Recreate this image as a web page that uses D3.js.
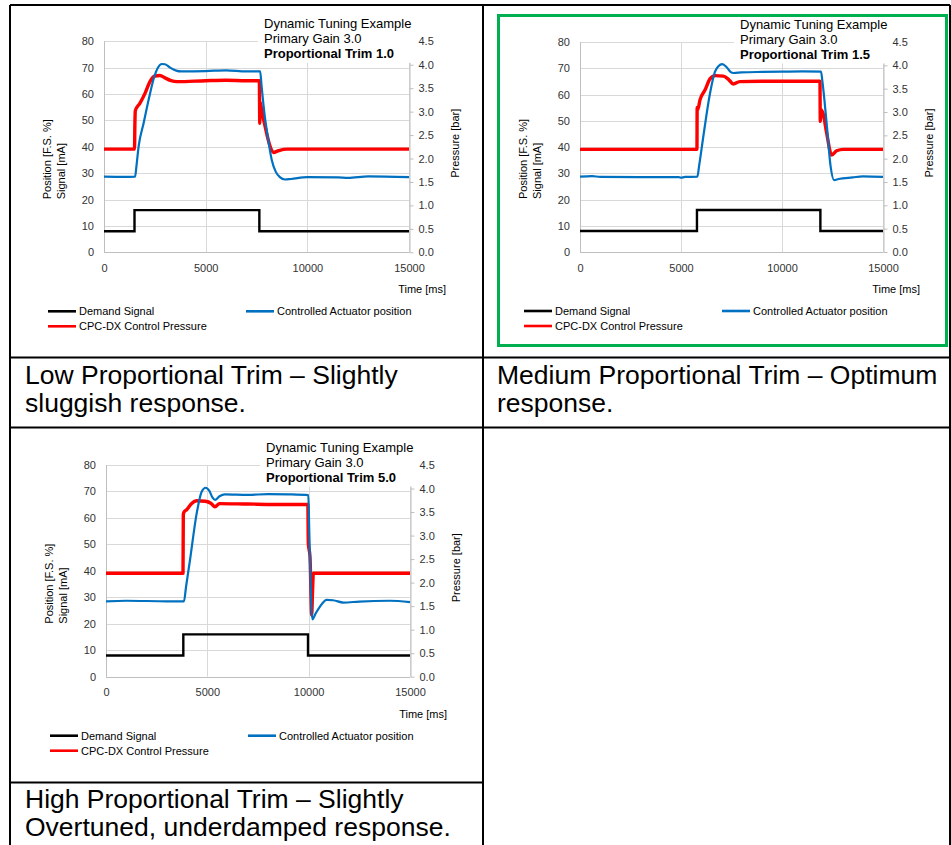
<!DOCTYPE html>
<html>
<head>
<meta charset="utf-8">
<script src="https://cdn.jsdelivr.net/npm/d3@7"></script>
<style>
  html, body { margin: 0; padding: 0; background: #fff; }
  svg { display: block; font-family: "Liberation Sans", Arial, sans-serif; }
</style>
</head>
<body>
<svg id="root" width="951" height="845"></svg>
<script>
// ---------- DATA ----------
const xTicks = [0, 5000, 10000, 15000];
const leftTicks = [0, 10, 20, 30, 40, 50, 60, 70, 80];
const rightTicks = [0, 0.5, 1, 1.5, 2, 2.5, 3, 3.5, 4, 4.5];
const seriesNames = ["Demand Signal", "Controlled Actuator position", "CPC-DX Control Pressure"];
const titleLines = ["Dynamic Tuning Example", "Primary Gain 3.0"];
const trimLabels = ["Proportional Trim 1.0", "Proportional Trim 1.5", "Proportional Trim 5.0"];
const captions = [
  ["Low Proportional Trim \u2013 Slightly", "sluggish response."],
  ["Medium Proportional Trim \u2013 Optimum", "response."],
  ["High Proportional Trim \u2013 Slightly", "Overtuned, underdamped response."]
];

// [time ms, signal mA]
const demand1 = [[0,8],[1500,8],[1500,16],[7640,16],[7640,8],[15000,8]];
const demand2 = [[0,8],[5790,8],[5790,16],[11900,16],[11900,8],[15000,8]];
const demand3 = [[0,8],[3815,8],[3815,16],[9967,16],[9967,8],[15000,8]];

// [time ms, position %]
const position1 = [[0,28.7],[1000,28.6],[1530,28.7],[1600,33],[1700,40],[1950,49],[2200,58],[2450,66],[2650,70],[2850,71.4],[3000,71.3],[3250,70.0],[3550,68.9],[3800,68.6],[5000,68.7],[6000,69.0],[7000,68.6],[7680,68.6],[7750,63],[7900,52],[8050,44],[8250,35],[8450,30.5],[8650,28.5],[8900,27.6],[9200,27.8],[10000,28.5],[11500,28.4],[12000,28.2],[13000,28.8],[15000,28.5]];
const position2 = [[0,28.7],[600,28.9],[1000,28.6],[4900,28.5],[5000,28.3],[5200,28.6],[5810,28.7],[5900,33],[6105,44],[6435,60.4],[6683,68.7],[6850,70.8],[7046,71.6],[7250,70.5],[7450,68.6],[7600,68.2],[8000,68.4],[9000,68.6],[10000,68.7],[11000,68.8],[11930,68.7],[12000,65],[12210,49],[12408,32.5],[12573,27.4],[12800,27.8],[13500,28.4],[14000,28.8],[15000,28.6]];
const position3 = [[0,28.5],[1000,28.7],[3000,28.5],[3848,28.5],[3950,34],[4145,44.1],[4474,61.7],[4720,69.9],[4918,71.4],[5100,70.2],[5250,67.8],[5378,66.8],[5600,68.2],[5871,68.9],[7000,68.7],[8000,69.0],[9000,68.9],[9983,68.6],[10030,55],[10066,44],[10181,21.7],[10350,24],[10559,26.5],[10888,29.0],[11200,28.9],[11710,28.0],[12500,28.4],[14000,28.7],[15000,28.2]];

// [time ms, pressure bar]
const pressure1 = [[0,2.2],[1500,2.2],[1520,2.75],[1540,3.02],[1770,3.18],[2016,3.39],[2262,3.64],[2508,3.76],[2750,3.77],[3000,3.72],[3300,3.66],[3600,3.64],[5000,3.66],[6000,3.67],[7000,3.66],[7640,3.66],[7660,2.75],[7680,3.2],[7750,3.05],[7920,2.69],[8160,2.27],[8330,2.13],[8600,2.17],[9000,2.2],[15000,2.2]];
const pressure2 = [[0,2.2],[5790,2.2],[5800,3.1],[5830,3.05],[5940,3.26],[6187,3.47],[6435,3.71],[6683,3.78],[7096,3.77],[7350,3.7],[7590,3.6],[7900,3.65],[9000,3.66],[11880,3.66],[11895,2.8],[11920,3.05],[12045,2.95],[12210,2.55],[12457,2.08],[12705,2.17],[13035,2.2],[15000,2.2]];
const pressure3 = [[0,2.2],[3800,2.2],[3815,3.45],[3850,3.5],[3980,3.55],[4228,3.68],[4475,3.74],[4900,3.73],[5200,3.68],[5378,3.61],[5600,3.68],[7000,3.67],[9000,3.66],[9960,3.66],[9983,2.84],[10066,2.55],[10148,1.31],[10190,1.8],[10230,2.2],[15000,2.2]];

// ---------- LAYOUT ----------
const svg = d3.select("#root");
const colors = { demand: "#000000", position: "#0070c0", pressure: "#ff0000" };

// table borders
const border = svg.append("g").attr("stroke", "#000").attr("stroke-width", 2).attr("fill", "none");
[[10, 5, 950, 5], [10, 357.5, 950, 357.5], [10, 427.5, 950, 427.5], [10, 782.5, 483, 782.5],
 [10, 5, 10, 845], [483, 5, 483, 845], [950, 5, 950, 845]].forEach(l =>
  border.append("line").attr("x1", l[0]).attr("y1", l[1]).attr("x2", l[2]).attr("y2", l[3]));

// captions
const capPos = [[25, 384], [497, 384], [25, 808]];
captions.forEach((c, i) => {
  const t = svg.append("text").attr("x", capPos[i][0]).attr("y", capPos[i][1])
    .attr("font-size", "26.5px").attr("fill", "#000");
  c.forEach((line, j) => t.append("tspan").attr("x", capPos[i][0]).attr("dy", j === 0 ? 0 : 28).text(line));
});

const charts = [
  { x0: 104, x1: 409, yTop: 41.3, yBot: 252.3, demand: demand1, position: position1, pressure: pressure1, trim: trimLabels[0] },
  { x0: 580, x1: 883, yTop: 42, yBot: 252, demand: demand2, position: position2, pressure: pressure2, trim: trimLabels[1] },
  { x0: 106, x1: 410, yTop: 465, yBot: 676.7, demand: demand3, position: position3, pressure: pressure3, trim: trimLabels[2] }
];

charts.forEach(c => drawChart(c));

// green highlight around the optimum chart (drawn on top)
svg.append("rect").attr("x", 498.5).attr("y", 15.5).attr("width", 448).attr("height", 330)
  .attr("fill", "none").attr("stroke", "#00b050").attr("stroke-width", 3);

function drawChart(c) {
  const g = svg.append("g");
  const x = d3.scaleLinear().domain([0, 15000]).range([c.x0, c.x1]);
  const yL = d3.scaleLinear().domain([0, 80]).range([c.yBot, c.yTop]);
  const yR = d3.scaleLinear().domain([0, 4.5]).range([c.yBot, c.yTop]);

  // gridlines
  const grid = g.append("g").attr("stroke", "#d9d9d9").attr("stroke-width", 1);
  leftTicks.forEach(v => grid.append("line")
    .attr("x1", c.x0).attr("x2", c.x1).attr("y1", Math.round(yL(v)) + 0.5).attr("y2", Math.round(yL(v)) + 0.5));
  xTicks.forEach(v => grid.append("line")
    .attr("x1", Math.round(x(v)) + 0.5).attr("x2", Math.round(x(v)) + 0.5).attr("y1", c.yTop).attr("y2", c.yBot));

  // axes (gray lines)
  const ax = g.append("g").attr("stroke", "#bfbfbf").attr("stroke-width", 1);
  ax.append("line").attr("x1", Math.round(c.x0) + 0.5).attr("x2", Math.round(c.x0) + 0.5).attr("y1", c.yTop).attr("y2", c.yBot);
  ax.append("line").attr("x1", c.x0).attr("x2", c.x1).attr("y1", Math.round(c.yBot) + 0.5).attr("y2", Math.round(c.yBot) + 0.5);

  // left axis labels
  const leftAxis = d3.axisLeft(yL).tickValues(leftTicks).tickSize(0).tickPadding(10).tickFormat(d3.format("d"));
  const la = g.append("g").attr("transform", `translate(${c.x0},0)`).call(leftAxis);
  la.select(".domain").remove();
  la.selectAll("text").attr("font-size", "11px").attr("font-family", "Liberation Sans, Arial, sans-serif").attr("fill", "#333");

  // bottom axis labels
  const bottomAxis = d3.axisBottom(x).tickValues(xTicks).tickSize(0).tickPadding(12).tickFormat(d3.format("d"));
  const ba = g.append("g").attr("transform", `translate(0,${c.yBot})`).call(bottomAxis);
  ba.select(".domain").remove();
  ba.selectAll("text").attr("font-size", "11px").attr("font-family", "Liberation Sans, Arial, sans-serif").attr("fill", "#333");

  // right axis
  const rightAxis = d3.axisRight(yR).tickValues(rightTicks).tickSizeInner(4).tickSizeOuter(0).tickPadding(5).tickFormat(d3.format(".1f"));
  const ra = g.append("g").attr("transform", `translate(${Math.round(c.x1) + 0.5},0)`).call(rightAxis);
  ra.select(".domain").attr("stroke", "#bfbfbf");
  ra.selectAll(".tick line").attr("stroke", "#bfbfbf");
  ra.selectAll("text").attr("font-size", "11px").attr("font-family", "Liberation Sans, Arial, sans-serif").attr("fill", "#333");

  // series
  const lineL = d3.line().x(d => x(d[0])).y(d => yL(d[1]));
  const lineLS = d3.line().x(d => x(d[0])).y(d => yL(d[1])).curve(d3.curveMonotoneX);
  const lineR = d3.line().x(d => x(d[0])).y(d => yR(d[1])).curve(d3.curveMonotoneX);

  g.append("path").datum(c.demand).attr("d", lineL).attr("fill", "none")
    .attr("stroke", colors.demand).attr("stroke-width", 2.4);
  g.append("path").datum(c.pressure).attr("d", lineR).attr("fill", "none")
    .attr("stroke", colors.pressure).attr("stroke-width", 3.4).attr("stroke-linejoin", "round");
  g.append("path").datum(c.position).attr("d", lineLS).attr("fill", "none")
    .attr("stroke", colors.position).attr("stroke-width", 2.2).attr("stroke-linejoin", "round");

  // title box
  const tx = c.x0 + 160;
  g.append("rect").attr("x", c.x0 + 154).attr("y", c.yTop - 24).attr("width", c.x1 + 5 - (c.x0 + 154)).attr("height", 45.5)
    .attr("fill", "#fff");
  g.append("text").attr("x", tx).attr("y", c.yTop - 13).attr("font-size", "13px").attr("fill", "#000").text(titleLines[0]);
  g.append("text").attr("x", tx).attr("y", c.yTop + 2).attr("font-size", "13px").attr("fill", "#000").text(titleLines[1]);
  g.append("text").attr("x", tx).attr("y", c.yTop + 17).attr("font-size", "13px").attr("font-weight", "bold").attr("fill", "#000").text(c.trim);

  // axis titles
  const lx1 = c.x0 - 57, lx2 = c.x0 - 43, ly = c.yBot - 53;
  g.append("text").attr("transform", `translate(${lx1},${ly}) rotate(-90)`).attr("dy", "0.35em")
    .attr("font-size", "11px").attr("fill", "#000").text("Position [F.S. %]");
  g.append("text").attr("transform", `translate(${lx2},${ly}) rotate(-90)`).attr("dy", "0.35em")
    .attr("font-size", "11px").attr("fill", "#000").text("Signal [mA]");
  g.append("text").attr("transform", `translate(${c.x1 + 46},${c.yBot - 109}) rotate(-90)`).attr("dy", "0.35em")
    .attr("text-anchor", "middle").attr("font-size", "11px").attr("fill", "#000").text("Pressure [bar]");
  g.append("text").attr("x", c.x1 + 37).attr("y", c.yBot + 41).attr("text-anchor", "end")
    .attr("font-size", "11px").attr("fill", "#000").text("Time [ms]");

  // legend
  const legend = [
    { name: seriesNames[0], color: colors.demand, lx: c.x0 - 56, ly: c.yBot + 59 },
    { name: seriesNames[1], color: colors.position, lx: c.x0 + 142, ly: c.yBot + 59 },
    { name: seriesNames[2], color: colors.pressure, lx: c.x0 - 56, ly: c.yBot + 74 }
  ];
  legend.forEach(l => {
    g.append("line").attr("x1", l.lx).attr("x2", l.lx + 28).attr("y1", l.ly).attr("y2", l.ly)
      .attr("stroke", l.color).attr("stroke-width", 2.6);
    g.append("text").attr("x", l.lx + 31).attr("y", l.ly).attr("dy", "0.35em")
      .attr("font-size", "11px").attr("fill", "#000").text(l.name);
  });
}
</script>
</body>
</html>
